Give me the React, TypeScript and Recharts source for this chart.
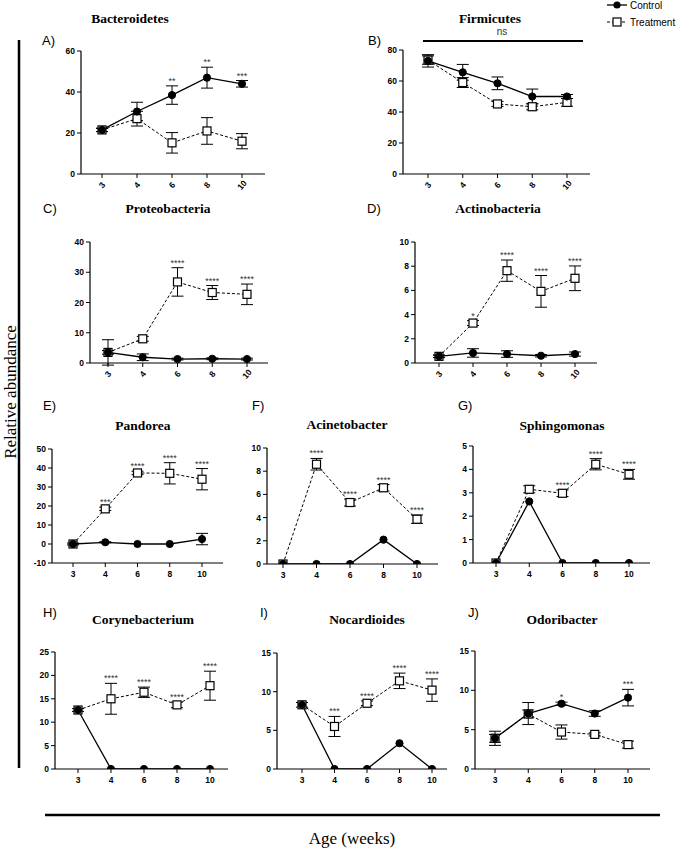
import React from 'react';
import { LineChart, Line, XAxis, YAxis, ErrorBar, LabelList } from 'recharts';

// x categories (age in weeks)
const ages = ['3', '4', '6', '8', '10'];

// A) Bacteroidetes
const bacteroidetesCtrl = [21.5, 30.5, 38.5, 47, 44];
const bacteroidetesCtrlErr = [0.8, 4.5, 4.5, 5.1, 1.6];
const bacteroidetesTrt = [21.5, 27, 15.2, 21, 16];
const bacteroidetesTrtErr = [0.8, 3.6, 5, 6.5, 3.7];
const bacteroidetesStars = ['', '', '**', '**', '***'];

// B) Firmicutes
const firmicutesCtrl = [73, 65.6, 58.5, 50, 50];
const firmicutesCtrlErr = [4, 5.1, 4.1, 4.8, 1.3];
const firmicutesTrt = [73.5, 59, 45.2, 43.4, 46.2];
const firmicutesTrtErr = [2.7, 3.2, 1.6, 2, 2.5];
const firmicutesStars = ['', '', '', '', ''];

// C) Proteobacteria
const proteoCtrl = [3.5, 1.9, 1.3, 1.4, 1.3];
const proteoCtrlErr = [4.2, 1.1, 0.3, 0.3, 0.3];
const proteoTrt = [3.5, 8, 26.8, 23.3, 22.7];
const proteoTrtErr = [0.6, 0.8, 4.7, 2.3, 3.4];
const proteoStars = ['', '', '****', '****', '****'];

// D) Actinobacteria
const actinoCtrl = [0.55, 0.83, 0.74, 0.6, 0.74];
const actinoCtrlErr = [0.1, 0.35, 0.27, 0.1, 0.17];
const actinoTrt = [0.55, 3.3, 7.63, 5.92, 7];
const actinoTrtErr = [0.1, 0.2, 0.88, 1.31, 1.02];
const actinoStars = ['', '*', '****', '****', '****'];

// E) Pandorea
const pandoreaCtrl = [0, 0.9, 0, 0, 2.6];
const pandoreaCtrlErr = [0, 0.3, 0, 0, 3];
const pandoreaTrt = [0, 18.5, 37.4, 37.2, 34.1];
const pandoreaTrtErr = [0.5, 0.9, 0.9, 5.6, 5.6];
const pandoreaStars = ['', '***', '****', '****', '****'];

// F) Acinetobacter
const acinetoCtrl = [0, 0, 0, 2.1, 0];
const acinetoCtrlErr = [0, 0, 0, 0, 0];
const acinetoTrt = [0, 8.6, 5.3, 6.57, 3.86];
const acinetoTrtErr = [0, 0.5, 0.3, 0.28, 0.36];
const acinetoStars = ['', '****', '****', '****', '****'];

// G) Sphingomonas
const sphingoCtrl = [0, 2.63, 0, 0, 0];
const sphingoCtrlErr = [0, 0, 0, 0, 0];
const sphingoTrt = [0, 3.15, 2.98, 4.22, 3.79];
const sphingoTrtErr = [0, 0.15, 0.14, 0.24, 0.21];
const sphingoStars = ['', '', '****', '****', '****'];

// H) Corynebacterium
const corynCtrl = [12.6, 0, 0, 0, 0];
const corynCtrlErr = [0, 0, 0, 0, 0];
const corynTrt = [12.6, 15, 16.4, 13.7, 17.8];
const corynTrtErr = [0.3, 3.3, 1.1, 0.6, 3.1];
const corynStars = ['', '****', '****', '****', '****'];

// I) Nocardioides
const nocarCtrl = [8.3, 0, 0, 3.33, 0];
const nocarCtrlErr = [0, 0, 0, 0, 0];
const nocarTrt = [8.3, 5.5, 8.5, 11.4, 10.2];
const nocarTrtErr = [0.3, 1.3, 0.3, 1, 1.45];
const nocarStars = ['', '***', '****', '****', '****'];

// J) Odoribacter
const odoriCtrl = [3.9, 7.05, 8.3, 7.05, 9.07];
const odoriCtrlErr = [0.9, 1.4, 0.2, 0.35, 1.05];
const odoriTrt = [3.9, 7, 4.7, 4.4, 3.1];
const odoriTrtErr = [0.5, 0.5, 0.9, 0.2, 0.45];
const odoriStars = ['', '', '*', '', '***'];

const SANS = '"Liberation Sans", Arial, sans-serif';
const SERIF = '"Liberation Serif", "Times New Roman", serif';

type Box = { axisX: number; top: number; bottom: number; end: number; first: number; last: number };

type PanelDef = {
  key: string;
  box: Box;
  domain: [number, number];
  ticks: number[];
  rotated: boolean;
  ctrl: number[];
  ctrlErr: number[];
  trt: number[];
  trtErr: number[];
  stars: string[];
};

const panels: PanelDef[] = [
  { key: 'A', box: { axisX: 81, top: 51, bottom: 174, end: 265, first: 102, last: 242 }, domain: [0, 60], ticks: [0, 20, 40, 60], rotated: true,
    ctrl: bacteroidetesCtrl, ctrlErr: bacteroidetesCtrlErr, trt: bacteroidetesTrt, trtErr: bacteroidetesTrtErr, stars: bacteroidetesStars },
  { key: 'B', box: { axisX: 403, top: 50, bottom: 174, end: 590, first: 428, last: 567 }, domain: [0, 80], ticks: [0, 20, 40, 60, 80], rotated: true,
    ctrl: firmicutesCtrl, ctrlErr: firmicutesCtrlErr, trt: firmicutesTrt, trtErr: firmicutesTrtErr, stars: firmicutesStars },
  { key: 'C', box: { axisX: 90, top: 242, bottom: 363, end: 268, first: 108, last: 247 }, domain: [0, 40], ticks: [0, 10, 20, 30, 40], rotated: true,
    ctrl: proteoCtrl, ctrlErr: proteoCtrlErr, trt: proteoTrt, trtErr: proteoTrtErr, stars: proteoStars },
  { key: 'D', box: { axisX: 415, top: 242, bottom: 363, end: 597, first: 439, last: 575 }, domain: [0, 10], ticks: [0, 2, 4, 6, 8, 10], rotated: true,
    ctrl: actinoCtrl, ctrlErr: actinoCtrlErr, trt: actinoTrt, trtErr: actinoTrtErr, stars: actinoStars },
  { key: 'E', box: { axisX: 52, top: 449, bottom: 563, end: 223, first: 73, last: 202 }, domain: [-10, 50], ticks: [-10, 0, 10, 20, 30, 40, 50], rotated: false,
    ctrl: pandoreaCtrl, ctrlErr: pandoreaCtrlErr, trt: pandoreaTrt, trtErr: pandoreaTrtErr, stars: pandoreaStars },
  { key: 'F', box: { axisX: 267, top: 448, bottom: 564, end: 438, first: 283, last: 417 }, domain: [0, 10], ticks: [0, 2, 4, 6, 8, 10], rotated: false,
    ctrl: acinetoCtrl, ctrlErr: acinetoCtrlErr, trt: acinetoTrt, trtErr: acinetoTrtErr, stars: acinetoStars },
  { key: 'G', box: { axisX: 473, top: 446, bottom: 563, end: 650, first: 496, last: 629 }, domain: [0, 5], ticks: [0, 1, 2, 3, 4, 5], rotated: false,
    ctrl: sphingoCtrl, ctrlErr: sphingoCtrlErr, trt: sphingoTrt, trtErr: sphingoTrtErr, stars: sphingoStars },
  { key: 'H', box: { axisX: 55, top: 652, bottom: 769, end: 228, first: 78, last: 210 }, domain: [0, 25], ticks: [0, 5, 10, 15, 20, 25], rotated: false,
    ctrl: corynCtrl, ctrlErr: corynCtrlErr, trt: corynTrt, trtErr: corynTrtErr, stars: corynStars },
  { key: 'I', box: { axisX: 277, top: 653, bottom: 769, end: 447, first: 302, last: 432 }, domain: [0, 15], ticks: [0, 5, 10, 15], rotated: false,
    ctrl: nocarCtrl, ctrlErr: nocarCtrlErr, trt: nocarTrt, trtErr: nocarTrtErr, stars: nocarStars },
  { key: 'J', box: { axisX: 475, top: 651, bottom: 769, end: 650, first: 495, last: 628 }, domain: [0, 15], ticks: [0, 5, 10, 15], rotated: false,
    ctrl: odoriCtrl, ctrlErr: odoriCtrlErr, trt: odoriTrt, trtErr: odoriTrtErr, stars: odoriStars },
];

// panel headings: [letter, letterX, letterY, title, titleX, titleY]
const headings: [string, number, number, string, number, number][] = [
  ['A)', 42, 40, 'Bacteroidetes', 130, 18],
  ['B)', 368, 40, 'Firmicutes', 490, 18],
  ['C)', 43, 208, 'Proteobacteria', 168, 208],
  ['D)', 367, 208, 'Actinobacteria', 498, 208],
  ['E)', 43, 405, 'Pandorea', 143, 425],
  ['F)', 252, 405, 'Acinetobacter', 347, 424],
  ['G)', 458, 405, 'Sphingomonas', 562, 425],
  ['H)', 43, 612, 'Corynebacterium', 143, 619],
  ['I)', 260, 612, 'Nocardioides', 367, 619],
  ['J)', 468, 612, 'Odoribacter', 562, 619],
];

const RotTick = (props: any) => {
  const { x, y, payload } = props;
  return (
    <g transform={`translate(${x},${y + 5})`}>
      <text transform="rotate(-50)" textAnchor="middle" dominantBaseline="central"
        fontSize={8.5} fontWeight="bold" fontFamily={SANS} fill="#000">{payload.value}</text>
    </g>
  );
};

const squareDot = (props: any) => {
  const { cx, cy, index } = props;
  if (cx == null || cy == null) return <g key={`s${index}`} />;
  return <rect key={`s${index}`} x={cx - 4} y={cy - 4} width={8} height={8} fill="#fff" stroke="#000" strokeWidth={1.2} />;
};

const circleDot = (props: any) => {
  const { cx, cy, index } = props;
  if (cx == null || cy == null) return <g key={`c${index}`} />;
  return <circle key={`c${index}`} cx={cx} cy={cy} r={3.6} fill="#000" stroke="#000" />;
};

const starLabel = (props: any) => {
  const { value, index } = props;
  const x = props.x ?? props.viewBox?.x;
  const y = props.y ?? props.viewBox?.y;
  if (!value || x == null || y == null) return null;
  return (
    <text key={`t${index}`} x={x} y={y - 2} textAnchor="middle" fontSize={9} fontFamily={SANS} fill="#333">{value}</text>
  );
};

function Panel({ p }: { p: PanelDef }) {
  const YW = 32, XH = 30, MT = 12, MR = 2;
  const { box } = p;
  const width = box.end - box.axisX + YW + MR;
  const height = box.bottom - box.top + MT + XH;
  const data = ages.map((age, i) => ({
    age,
    ctrl: p.ctrl[i],
    ctrlErr: p.ctrlErr[i],
    trt: p.trt[i],
    trtErr: p.trtErr[i],
    star: p.stars[i],
    starY: p.stars[i] ? Math.max(p.ctrl[i] + p.ctrlErr[i], p.trt[i] + p.trtErr[i]) : null,
  }));
  const tickStyle = { fontSize: 8.5, fontWeight: 'bold', fontFamily: SANS, fill: '#000' };
  return (
    <div style={{ position: 'absolute', left: box.axisX - YW, top: box.top - MT }}>
      <LineChart width={width} height={height} data={data} margin={{ top: MT, right: MR, left: 0, bottom: 0 }}>
        <XAxis
          dataKey="age"
          type="category"
          height={XH}
          padding={{ left: box.first - box.axisX, right: box.end - box.last }}
          axisLine={{ stroke: '#000', strokeWidth: 1.2 }}
          tickLine={{ stroke: '#000', strokeWidth: 1 }}
          tickSize={4}
          tickMargin={p.rotated ? 2 : 4}
          tick={p.rotated ? <RotTick /> : tickStyle}
          interval={0}
        />
        <YAxis
          type="number"
          width={YW}
          domain={p.domain}
          ticks={p.ticks}
          allowDataOverflow
          interval={0}
          axisLine={{ stroke: '#000', strokeWidth: 1.2 }}
          tickLine={{ stroke: '#000', strokeWidth: 1 }}
          tickSize={4}
          tickMargin={2}
          tick={tickStyle}
        />
        <Line dataKey="trt" type="linear" stroke="#000" strokeWidth={1} strokeDasharray="3 2"
          dot={squareDot} activeDot={false} isAnimationActive={false}>
          <ErrorBar dataKey="trtErr" width={6} stroke="#000" strokeWidth={1} direction="y" />
        </Line>
        <Line dataKey="ctrl" type="linear" stroke="#000" strokeWidth={1.3}
          dot={circleDot} activeDot={false} isAnimationActive={false}>
          <ErrorBar dataKey="ctrlErr" width={6} stroke="#000" strokeWidth={1} direction="y" />
        </Line>
        <Line dataKey="starY" type="linear" stroke="none" dot={false} activeDot={false} isAnimationActive={false}>
          <LabelList dataKey="star" content={starLabel} />
        </Line>
      </LineChart>
    </div>
  );
}

export default function App() {
  return (
    <div style={{ position: 'absolute', left: 0, top: 0, width: 676, height: 858, background: '#fff', overflow: 'hidden' }}>
      {panels.map((p) => <Panel key={p.key} p={p} />)}
      <svg width={676} height={858} style={{ position: 'absolute', left: 0, top: 0, pointerEvents: 'none' }}>
        {headings.map(([l, lx, ly, t, tx, ty]) => (
          <g key={l}>
            <text x={lx} y={ly} dominantBaseline="central" fontSize={13} fontFamily={SANS} fill="#000">{l}</text>
            <text x={tx} y={ty} textAnchor="middle" dominantBaseline="central" fontSize={13.5} fontWeight="bold" fontFamily={SERIF} fill="#000">{t}</text>
          </g>
        ))}
        {/* ns bracket over Firmicutes */}
        <text x={502} y={31} textAnchor="middle" dominantBaseline="central" fontSize={10} fontFamily={SANS} fill="#333">ns</text>
        <line x1={423} y1={41} x2={583} y2={41} stroke="#000" strokeWidth={2} />
        {/* legend */}
        <line x1={607} y1={5} x2={627} y2={5} stroke="#000" strokeWidth={1.3} />
        <circle cx={617} cy={5} r={3.6} fill="#000" />
        <text x={630} y={5} dominantBaseline="central" fontSize={10} fontFamily={SANS} fill="#000">Control</text>
        <line x1={607} y1={22} x2={627} y2={22} stroke="#000" strokeWidth={1} strokeDasharray="3 2" />
        <rect x={613} y={18} width={8} height={8} fill="#fff" stroke="#000" strokeWidth={1.2} />
        <text x={630} y={22} dominantBaseline="central" fontSize={10} fontFamily={SANS} fill="#000">Treatment</text>
        {/* outer axis frame */}
        <line x1={19} y1={40} x2={19} y2={768} stroke="#000" strokeWidth={2.5} />
        <line x1={45} y1={815} x2={660} y2={815} stroke="#000" strokeWidth={2.5} />
        <text transform="translate(10,392) rotate(-90)" textAnchor="middle" dominantBaseline="central" fontSize={17} fontFamily={SERIF} fill="#000">Relative abundance</text>
        <text x={352} y={838} textAnchor="middle" dominantBaseline="central" fontSize={17} fontFamily={SERIF} fill="#000">Age (weeks)</text>
      </svg>
    </div>
  );
}
